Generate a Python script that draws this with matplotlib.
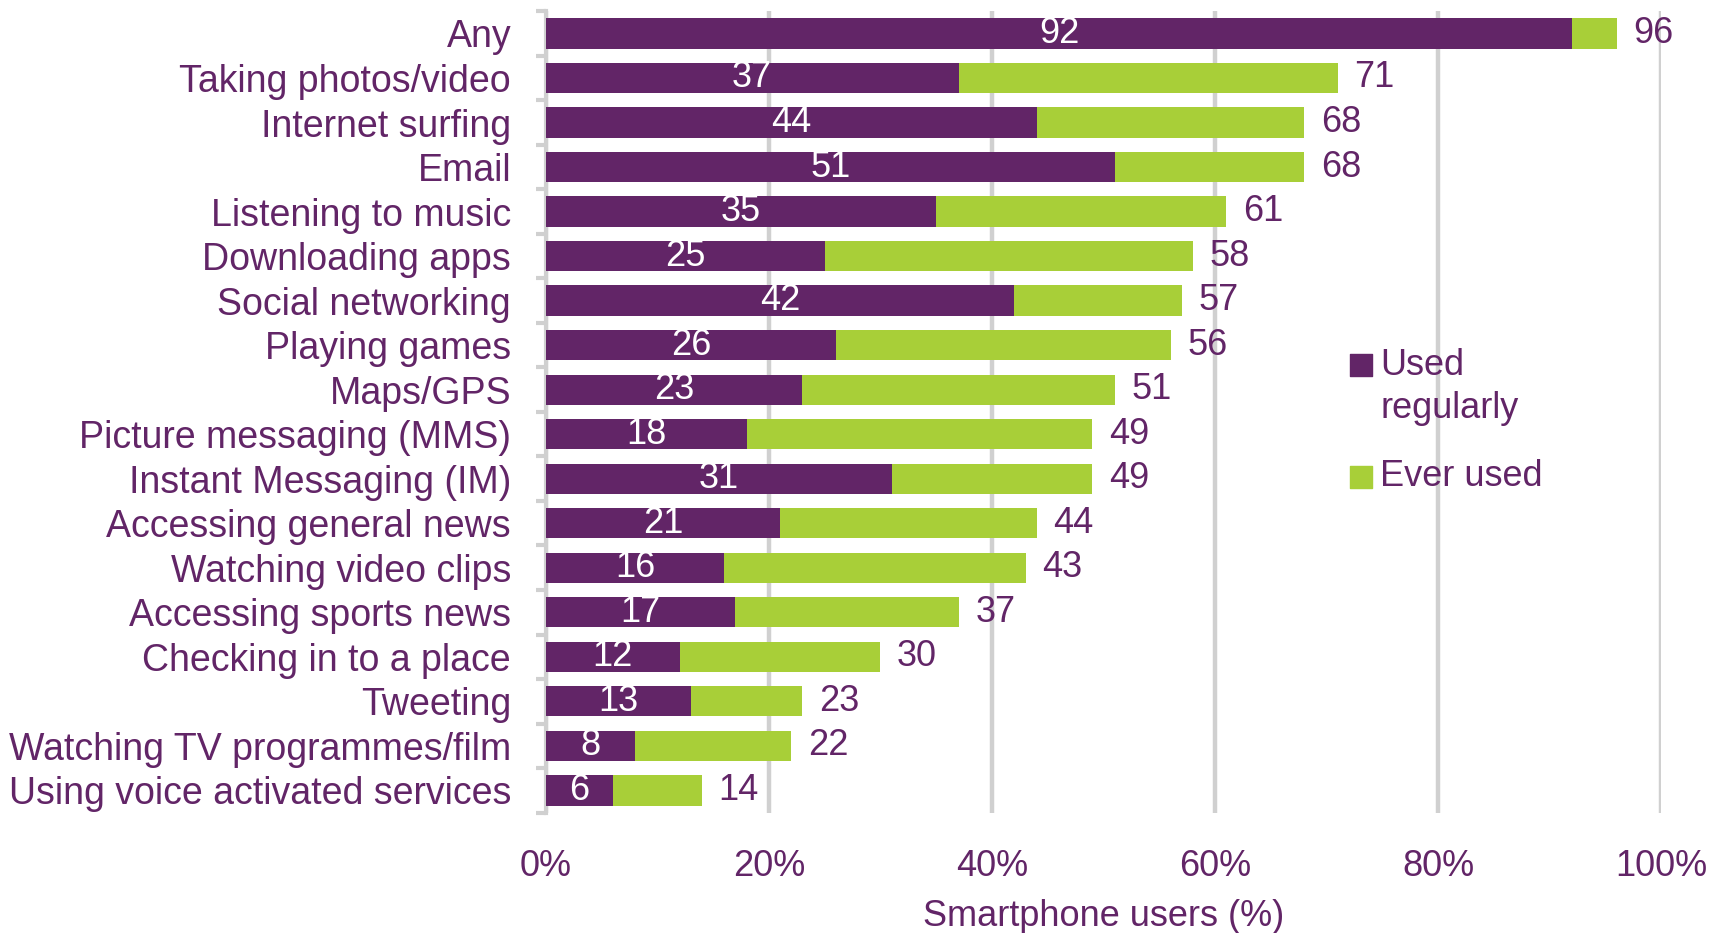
import matplotlib.pyplot as plt
import numpy as np

activities = [
    "Any", "Taking photos/video", "Internet surfing", "Email",
    "Listening to music", "Downloading apps", "Social networking",
    "Playing games", "Maps/GPS", "Picture messaging (MMS)",
    "Instant Messaging (IM)", "Accessing general news",
    "Watching video clips", "Accessing sports news",
    "Checking in to a place", "Tweeting", "Watching TV programmes/film",
    "Using voice activated services",
]
used_regularly = [92, 37, 44, 51, 35, 25, 42, 26, 23, 18, 31, 21, 16, 17, 12, 13, 8, 6]
ever_used = [96, 71, 68, 68, 61, 58, 57, 56, 51, 49, 49, 44, 43, 37, 30, 23, 22, 14]
x_ticks = [0, 20, 40, 60, 80, 100]
x_ticklabels = ["0%", "20%", "40%", "60%", "80%", "100%"]

PURPLE = "#622567"
GREEN = "#A8CF38"
GRID = "#D0D0D0"
FS = 26

plt.rcParams["font.family"] = ["Liberation Sans", "DejaVu Sans"]

fig = plt.figure(figsize=(17.11, 9.33), dpi=100)
ax = fig.add_axes([0.319, 0.129, 0.652, 0.859])

y = np.arange(len(activities))
reg = np.array(used_regularly)
ever = np.array(ever_used)

b1 = ax.barh(y, reg, height=0.68, color=PURPLE, zorder=3)
b2 = ax.barh(y, ever - reg, left=reg, height=0.68, color=GREEN, zorder=3)

ax.bar_label(b1, labels=[str(v) for v in used_regularly], label_type="center",
             color="white", fontsize=FS)
ax.bar_label(b2, labels=[str(v) for v in ever_used], padding=12,
             color=PURPLE, fontsize=FS)

ax.set_xlim(0, 100)
ax.set_ylim(len(activities) - 0.5, -0.5)

ax.set_xticks(x_ticks)
ax.set_xticklabels(x_ticklabels)
ax.set_yticks(y)
ax.set_yticklabels(activities)
ax.set_yticks(np.arange(len(activities) + 1) - 0.5, minor=True)

ax.tick_params(axis="x", length=0, pad=26, labelsize=FS, labelcolor=PURPLE)
ax.tick_params(axis="y", which="major", length=0, pad=25, labelsize=27, labelcolor=PURPLE)
ax.tick_params(axis="y", which="minor", length=7, width=3, color=GRID)

for s in ["top", "right", "bottom"]:
    ax.spines[s].set_visible(False)
ax.spines["left"].set_color(GRID)
ax.spines["left"].set_linewidth(3)

ax.xaxis.grid(True, color=GRID, linewidth=3.2, zorder=0)
ax.set_axisbelow(True)

ax.set_xlabel("Smartphone users (%)", fontsize=FS, color=PURPLE, labelpad=11)

# legend, first label sits beside its square on the top line
ax.scatter([0.731], [0.558], marker="s", s=240, color=PURPLE,
           transform=ax.transAxes, clip_on=False, zorder=4)
ax.scatter([0.731], [0.419], marker="s", s=240, color=GREEN,
           transform=ax.transAxes, clip_on=False, zorder=4)
ax.text(0.748, 0.558, "Used", transform=ax.transAxes, fontsize=FS,
        color=PURPLE, va="center", ha="left")
ax.text(0.748, 0.504, "regularly", transform=ax.transAxes, fontsize=FS,
        color=PURPLE, va="center", ha="left")
ax.text(0.748, 0.419, "Ever used", transform=ax.transAxes, fontsize=FS,
        color=PURPLE, va="center", ha="left")

fig.savefig("out.png", dpi=100)
